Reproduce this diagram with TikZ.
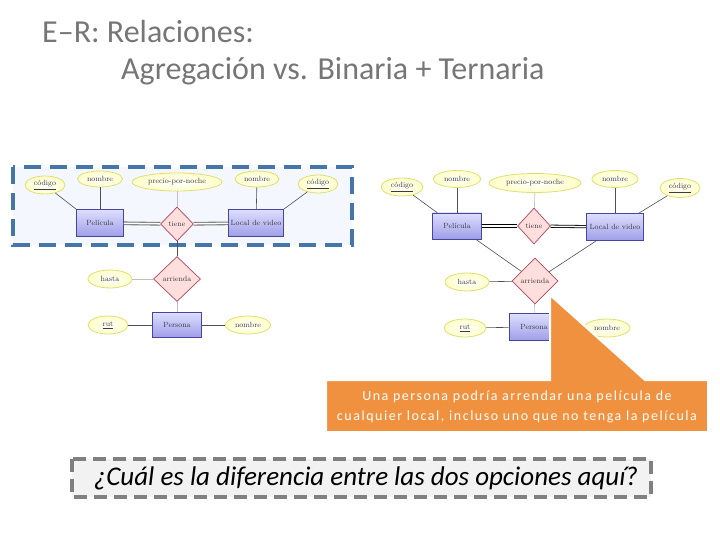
\documentclass[tikz,border=0pt]{standalone}
\usepackage{fontspec}
\newfontfamily\calib{Carlito}
\newfontfamily\calibsp[LetterSpace=11]{Carlito}
\usetikzlibrary{shapes.geometric}
\definecolor{titlegray}{RGB}{118,118,118}
\definecolor{attrfill}{RGB}{255,255,200}
\definecolor{attrdraw}{RGB}{222,222,120}
\definecolor{enttop}{RGB}{222,222,255}
\definecolor{entbot}{RGB}{158,158,232}
\definecolor{entdraw}{RGB}{70,70,160}
\definecolor{relfill}{RGB}{255,222,222}
\definecolor{reldraw}{RGB}{178,70,90}
\definecolor{linegray}{RGB}{80,80,80}
\definecolor{lightline}{RGB}{190,190,190}
\definecolor{dblgray}{RGB}{120,120,120}
\definecolor{boxblue}{RGB}{68,118,170}
\definecolor{boxfill}{RGB}{244,248,254}
\definecolor{calloutor}{RGB}{240,145,64}
\definecolor{qgray}{RGB}{128,128,128}
\definecolor{qfill}{RGB}{242,242,242}
\definecolor{ertext}{RGB}{60,60,60}
\tikzset{
  attr/.style={ellipse, draw=attrdraw, line width=0.8pt, inner color=white, outer color=attrfill,
    inner sep=0pt, font=\fontsize{7.5}{8}\selectfont, text=ertext},
  ent/.style={rectangle, draw=entdraw, line width=0.7pt, top color=enttop, bottom color=entbot,
    inner sep=0pt, font=\fontsize{7.5}{8}\selectfont, text=ertext},
  rel/.style={diamond, draw=reldraw, line width=0.7pt, fill=relfill, inner sep=0pt, aspect=1,
    font=\fontsize{7.5}{8}\selectfont, text=ertext},
  conn/.style={draw=linegray, line width=0.6pt},
  lconn/.style={draw=lightline, line width=0.6pt},
  dbl/.style={draw=dblgray, double=white, double distance=1.5pt, line width=1.1pt},
  dblk/.style={draw=black, double=white, double distance=1.5pt, line width=0.8pt},
}
\begin{document}
\begin{tikzpicture}[x=1pt,y=-1pt]
\useasboundingbox (0,0) rectangle (720,540);
% title
\node[anchor=west, text=titlegray, font=\calib\fontsize{32}{36}\selectfont, inner sep=0pt] (t1) at (42,32) {E–R: Relaciones:};
\node[anchor=west, text=titlegray, font=\calib\fontsize{32}{36}\selectfont, inner sep=0pt] (t2) at (121,71) {Agregación vs. Binaria + Ternaria};
% left aggregation box
\draw[boxblue, fill=boxfill, line width=4.5pt, dash pattern=on 17pt off 9pt] (13,167) rectangle (352,245);
% left diagram
\node[attr, minimum width=40, minimum height=18] (c1) at (45,185) {\underline{código}};
\node[attr, minimum width=45, minimum height=16] (n1) at (100,179) {nombre};
\node[attr, minimum width=90, minimum height=18] (p1) at (177,182) {precio-por-noche};
\node[attr, minimum width=44, minimum height=16] (n2) at (257,179) {nombre};
\node[attr, minimum width=40, minimum height=18] (c2) at (318,184) {\underline{código}};
\node[ent, minimum width=47, minimum height=27] (pel1) at (100,223) {Película};
\node[rel, minimum width=33, minimum height=34] (tie1) at (177,224) {tiene};
\node[ent, minimum width=55, minimum height=27] (loc1) at (256,223) {Local de video};
\node[rel, minimum width=47, minimum height=45] (arr1) at (177,279) {arrienda};
\node[attr, minimum width=44, minimum height=18] (has1) at (110,279) {hasta};
\node[ent, minimum width=49, minimum height=25] (per1) at (177,325) {Persona};
\node[attr, minimum width=40, minimum height=18] (rut1) at (108,325) {\underline{rut}};
\node[attr, minimum width=45, minimum height=18] (nom1) at (248,325) {nombre};
\draw[conn] (c1) -- (pel1.north west);
\draw[conn] (n1) -- (pel1);
\draw[lconn] (p1) -- (tie1);
\draw[conn] (n2) -- (loc1);
\draw[conn] (c2) -- (loc1.north east);
\draw[dbl] (pel1) -- (tie1);
\draw[dbl] (tie1) -- (loc1);
\draw[conn] (tie1) -- (arr1);
\draw[lconn] (has1) -- (arr1);
\draw[lconn] (arr1) -- (per1);
\draw[conn] (rut1) -- (per1);
\draw[conn] (per1) -- (nom1);
% right diagram
\node[attr, minimum width=42, minimum height=18] (c3) at (402,187) {\underline{código}};
\node[attr, minimum width=47, minimum height=17] (n3) at (457,179) {nombre};
\node[attr, minimum width=92, minimum height=19] (p2) at (535,183) {precio-por-noche};
\node[attr, minimum width=46, minimum height=17] (n4) at (615,179) {nombre};
\node[attr, minimum width=40, minimum height=19] (c4) at (680,188) {\underline{código}};
\node[ent, minimum width=49, minimum height=26] (pel2) at (457,226) {Película};
\node[rel, minimum width=33, minimum height=36] (tie2) at (534,226) {tiene};
\node[ent, minimum width=57, minimum height=27] (loc2) at (615,227) {Local de video};
\node[rel, minimum width=46, minimum height=46] (arr2) at (535,281) {arrienda};
\node[attr, minimum width=44, minimum height=18] (has2) at (467,282) {hasta};
\node[ent, minimum width=50, minimum height=27] (per2) at (534,327) {Persona};
\node[attr, minimum width=42, minimum height=18] (rut2) at (465,328) {\underline{rut}};
\node[attr, minimum width=46, minimum height=18] (nom2) at (607,328) {nombre};
\draw[conn] (c3) -- ([xshift=5pt]pel2.north west);
\draw[conn] (n3) -- (pel2);
\draw[lconn] (p2) -- (tie2);
\draw[conn] (n4) -- (loc2);
\draw[conn] (c4) -- ([xshift=-5pt]loc2.north east);
\draw[dblk] (pel2) -- (tie2);
\draw[dblk] (tie2) -- (loc2);
\draw[conn] ([xshift=-6pt]pel2.south east) -- (arr2);
\draw[conn] ([xshift=10pt]loc2.south west) -- (arr2);
\draw[conn] (has2) -- (arr2);
\draw[lconn] (arr2) -- (per2);
\draw[conn] (rut2) -- (per2);
\draw[conn] (per2) -- (nom2);
% callout
\draw[white, line width=2pt, fill=calloutor] (326,380) -- (550,380) -- (550,295) -- (645,380) -- (708,380) -- (708,432) -- (326,432) -- cycle;
\node[text=white, align=center, font=\calibsp\fontsize{14}{20}\selectfont, inner sep=0pt] (cal) at (517,407)
  {Una persona podría arrendar una película de\\cualquier local, incluso uno que no tenga la película};
% question box
\draw[qgray, fill=qfill, line width=3.5pt, dash pattern=on 13pt off 7pt] (72,459) rectangle (651,497);
\node[font=\calib\itshape\fontsize{27}{30}\selectfont, text=black, inner sep=0pt] (q) at (366,478) {¿Cuál es la diferencia entre las dos opciones aquí?};
\end{tikzpicture}
\end{document}
